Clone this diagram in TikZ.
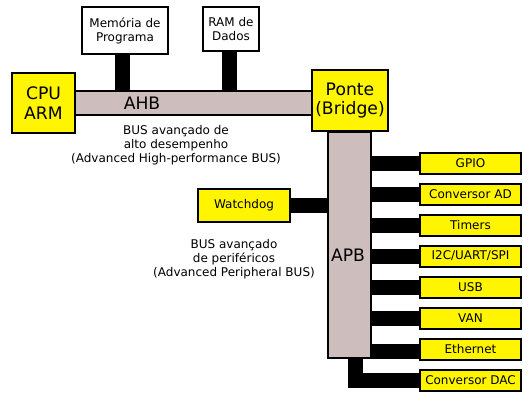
\documentclass[tikz,border=0pt]{standalone}
\usepackage{fontspec}
\setmainfont{DejaVu Sans}
\definecolor{chipyellow}{RGB}{255,245,0}
\definecolor{busfill}{RGB}{205,189,189}

\begin{document}
\begin{tikzpicture}[x=1pt, y=-1pt,
    block/.style={draw, line width=2pt, fill=chipyellow, inner sep=0pt, align=center,
        font=\fontsize{12}{14}\selectfont},
    bigblock/.style={block, font=\fontsize{17.2}{19.5}\selectfont},
    memblock/.style={block, fill=white},
    periph/.style={block, minimum width=101pt, minimum height=21pt},
    busbar/.style={draw, line width=2pt, fill=busfill, inner sep=0pt},
    wire/.style={line width=15pt},
    note/.style={align=center, font=\fontsize{12}{13.8}\selectfont}]
    \useasboundingbox (0,0) rectangle (530,402);

    % Buses
    \node[busbar, minimum width=245pt, minimum height=24pt] (ahb) at (193,103) {};
    \node[busbar, minimum width=43pt, minimum height=226pt] (apb) at (349.5,245) {};
    \node[font=\fontsize{17.2}{19.5}\selectfont] at (142,103) {AHB};
    \node[font=\fontsize{17.2}{19.5}\selectfont] at (348,255) {APB};

    % Main blocks
    \node[bigblock, minimum width=63pt, minimum height=60pt] (cpu) at (43.5,103) {CPU\\ARM};
    \node[bigblock, minimum width=76pt, minimum height=61pt] (ponte) at (350,100.5) {Ponte\\(Bridge)};
    \node[memblock, minimum width=86pt, minimum height=47pt] (mem) at (125,30.5) {Memória de\\Programa};
    \node[memblock, minimum width=56pt, minimum height=44pt] (ram) at (231,29) {RAM de\\Dados};
    \node[block, minimum width=92pt, minimum height=33pt] (wdog) at (244,205.5) {Watchdog};

    % Peripherals
    \node[periph] (gpio) at (470.5,163) {GPIO};
    \node[periph] (adc) at (470.5,194.5) {Conversor AD};
    \node[periph] (tmr) at (470.5,225) {Timers};
    \node[periph] (serial) at (470.5,256) {I2C/UART/SPI};
    \node[periph] (usb) at (470.5,287) {USB};
    \node[periph] (van) at (470.5,318) {VAN};
    \node[periph] (eth) at (470.5,349.5) {Ethernet};
    \node[periph] (dac) at (470.5,380) {Conversor DAC};

    % Connections
    \draw[wire] ([xshift=-3pt]mem.south) -- ([xshift=-3pt]mem.south |- ahb.north);
    \draw[wire] ([xshift=-1.5pt]ram.south) -- ([xshift=-1.5pt]ram.south |- ahb.north);
    \draw[wire] (wdog.east) -- (wdog.east -| apb.west);
    \draw[wire] (apb.east |- gpio.west) -- (gpio.west);
    \draw[wire] (apb.east |- adc.west) -- (adc.west);
    \draw[wire] (apb.east |- tmr.west) -- (tmr.west);
    \draw[wire] (apb.east |- serial.west) -- (serial.west);
    \draw[wire] (apb.east |- usb.west) -- (usb.west);
    \draw[wire] (apb.east |- van.west) -- (van.west);
    \draw[wire] ([yshift=-1.5pt]apb.east |- eth.west) -- ([yshift=-1.5pt]eth.west);
    \draw[wire] ([xshift=5.5pt]apb.south) |- (dac.west);

    % Descriptions
    \node[note] at (176,145) {BUS avançado de\\alto desempenho\\(Advanced High-performance BUS)};
    \node[note] at (234,259) {BUS avançado\\de periféricos\\(Advanced Peripheral BUS)};
\end{tikzpicture}
\end{document}
